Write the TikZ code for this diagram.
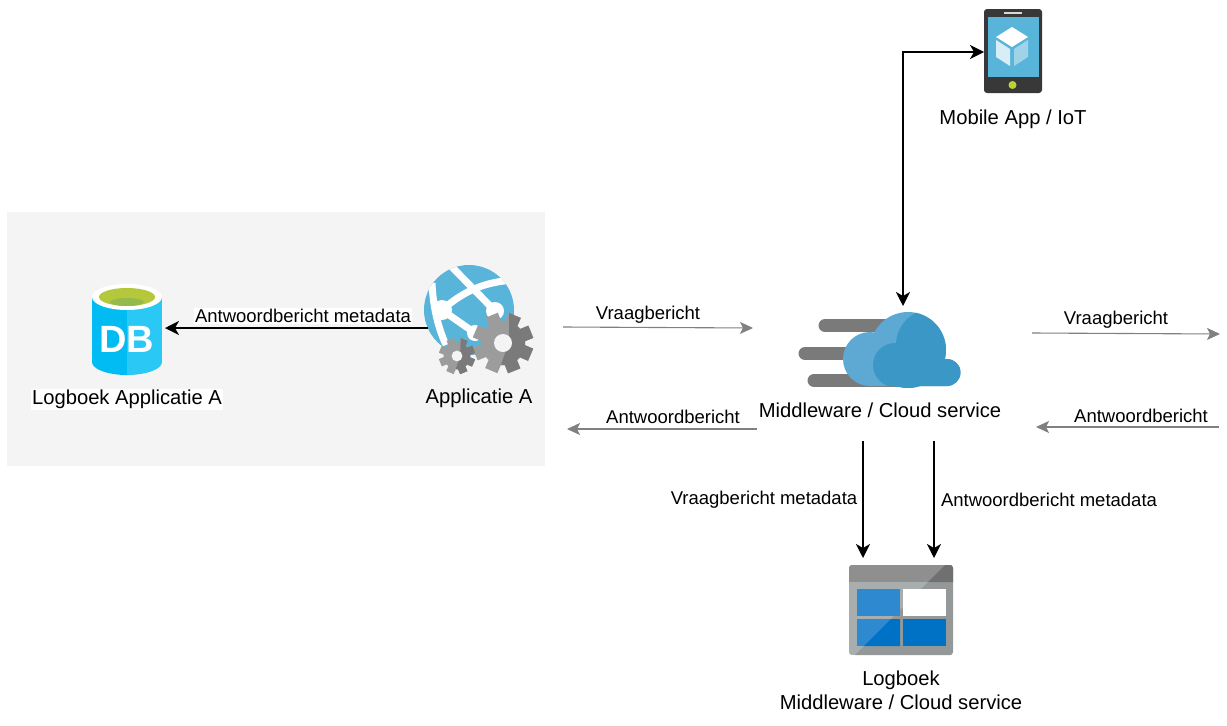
\documentclass[tikz,border=0pt]{standalone}
\usepackage{xcolor}
\usepackage{fontspec}
\setmainfont{Liberation Sans}
\usepackage{tikz}
\usetikzlibrary{positioning, arrows.meta}
\definecolor{panel}{HTML}{F4F4F4}
\definecolor{globe}{HTML}{59B4D9}
\definecolor{gearlight}{HTML}{9C9C9C}
\definecolor{geardark}{HTML}{7A7A7A}
\definecolor{cloudlight}{HTML}{5EA9D3}
\definecolor{clouddark}{HTML}{3A97C6}
\definecolor{cellblue}{HTML}{2F89D0}
\definecolor{celldark}{HTML}{0072C6}
\definecolor{dbleft}{HTML}{00BCF2}
\definecolor{dbright}{HTML}{2AC8F5}

\begin{document}
\begin{tikzpicture}[x=1pt, y=-1pt, node distance = 6pt]
    \tikzstyle{icon} = [inner sep=0pt, outer sep=0pt];
    \tikzstyle{title} = [inner sep=1pt, align=center, font=\fontsize{20.2}{24}\selectfont];
    \tikzstyle{msg} = [inner sep=1pt, font=\fontsize{18.5}{22}\selectfont];
    \tikzstyle{strong} = [-{Stealth[length=14pt, width=14pt, inset=4pt]}, line width=1.6pt, black];
    \tikzstyle{faint} = [-{Stealth[length=13pt, width=12pt, inset=3pt]}, line width=1.1pt, black!50];

    \useasboundingbox (0, 0) rectangle (1227, 726);
    \fill [panel] (7, 212) rectangle (545, 466);

    % database
    \foreach \cl/\xa/\xb in {dbleft/92/127, dbright/127/162} {
        \begin{scope}
            \clip (\xa, 280) rectangle (\xb, 380);
            \fill [\cl] (92, 297) rectangle (162, 362);
            \fill [\cl] (127, 362) ellipse [x radius=35, y radius=13];
        \end{scope}
    }
    \fill [white] (127, 297) ellipse [x radius=35, y radius=13];
    \fill [fill={rgb,255:red,181;green,200;blue,60}] (127, 297) ellipse [x radius=28, y radius=9];
    \fill [fill={rgb,255:red,150;green,185;blue,75}] (127, 302) ellipse [x radius=17, y radius=4];
    \node [icon, white, font=\fontsize{38}{38}\bfseries\selectfont] at (127, 339) {DB};
    \node [icon, minimum width=76pt, minimum height=92pt] (db) at (127, 328) {};

    % application
    \fill [globe] (469, 310) circle [radius=45];
    \begin{scope}
        \clip (469, 310) circle [radius=45];
        \draw [white, line width=7pt] (451, 266) -- (495, 311);
        \draw [white, line width=7pt] (442, 310) .. controls (465, 290) and (485, 282) .. (514, 280);
        \draw [white, line width=7pt] (442, 310) -- (475, 333);
        \draw [white, line width=7pt] (432, 283) .. controls (433, 305) and (437, 325) .. (446, 345);
    \end{scope}
    \fill [white] (442, 310) circle [radius=10];
    \fill [white] (495, 311) circle [radius=9];
    \fill [white] (475, 333) circle [radius=8];
    \foreach \gx/\gy/\gr in {503/343/30, 457/356/18} {
        \fill [gearlight] (\gx, \gy) circle [radius=0.74*\gr];
        \foreach \a in {0, 45, ..., 315}
            \fill [gearlight, rotate around={\a+22:(\gx, \gy)}] (\gx-0.22*\gr, \gy) rectangle (\gx+0.22*\gr, \gy-\gr);
        \begin{scope}
            \clip (\gx-\gr*0.2, \gy+\gr*1.1) -- (\gx+\gr*0.2, \gy) -- (\gx+\gr*0.2, \gy-\gr*1.1) -- (\gx+\gr*1.1, \gy-\gr*1.1) -- (\gx+\gr*1.1, \gy+\gr*1.1) -- cycle;
            \fill [geardark] (\gx, \gy) circle [radius=0.74*\gr];
            \foreach \a in {0, 45, ..., 315}
                \fill [geardark, rotate around={\a+22:(\gx, \gy)}] (\gx-0.22*\gr, \gy) rectangle (\gx+0.22*\gr, \gy-\gr);
        \end{scope}
        \fill [panel] (\gx, \gy) circle [radius=0.3*\gr];
    }
    \node [icon, minimum width=82pt, minimum height=90pt] (app) at (469, 328) {};

    % cloud
    \foreach \by/\bx in {325.5/819, 353.5/799, 380.5/808}
        \draw [geardark, line width=13pt, line cap=round] (\bx+6, \by) -- (900, \by);
    \begin{scope}
        \clip (908, 350) circle [radius=38] (870, 359) circle [radius=27] (947, 372.5) circle [radius=13.5] (948, 368) rectangle (870, 386);
        \fill [cloudlight] (840, 305) rectangle (965, 390);
        \fill [clouddark] (932, 345) circle [radius=36];
        \fill [clouddark] (895, 365) circle [radius=22];
        \fill [clouddark] (895, 365) rectangle (965, 390);
    \end{scope}
    \node [icon, minimum width=162pt, minimum height=80pt] (cloud) at (880, 346) {};

    % phone
    \fill [fill=black!78, rounded corners=3pt] (984, 9) rectangle (1042, 93);
    \fill [globe] (988, 17) rectangle (1039, 77);
    \draw [black!15, line width=1.5pt] (1004, 13) -- (1022, 13);
    \fill [fill={rgb,255:red,184;green,212;blue,50}] (1012.5, 85) circle [radius=4];
    \fill [white] (1012, 27) -- (1028, 37) -- (1012, 47) -- (996, 37) -- cycle;
    \fill [fill={rgb,255:red,216;green,238;blue,246}] (996, 40) -- (1010, 49) -- (1010, 66) -- (996, 57) -- cycle;
    \fill [fill={rgb,255:red,159;green,212;blue,232}] (1014, 49) -- (1028, 40) -- (1028, 57) -- (1014, 66) -- cycle;
    \node [icon, minimum width=58pt, minimum height=84pt] (phone) at (1013, 52) {};

    % storage
    \begin{scope}
        \clip [rounded corners=3pt] (849, 565) rectangle (953, 655);
        \fill [fill={rgb,255:red,168;green,173;blue,174}] (849, 565) rectangle (953, 655);
        \fill [fill={rgb,255:red,148;green,152;blue,153}] (953, 557) -- (953, 655) -- (855, 655) -- cycle;
        \fill [fill={rgb,255:red,143;green,143;blue,143}] (849, 565) rectangle (953, 582);
        \fill [fill={rgb,255:red,112;green,112;blue,112}] (945, 565) -- (953, 565) -- (953, 582) -- (928, 582) -- cycle;
    \end{scope}
    \fill [cellblue] (857, 589) rectangle (900, 616);
    \fill [white] (903, 589) rectangle (946, 616);
    \fill [cellblue] (857, 619) rectangle (900, 646);
    \fill [celldark] (891, 619) -- (900, 619) -- (900, 646) -- (864, 646) -- cycle;
    \fill [celldark] (903, 619) rectangle (946, 646);
    \node [icon, minimum width=104pt, minimum height=90pt] (store) at (901, 610) {};

    % names
    \node [title, fill=white, below = 15pt of db] (dbname) {Logboek Applicatie A};
    \node [title, below = 15pt of app, xshift=10pt] (appname) {Applicatie A};
    \node [title, below = 16pt of cloud] (cloudname) {Middleware / Cloud service};
    \node [title, below = 15pt of phone] (phonename) {Mobile App / IoT};
    \node [title, below = 15pt of store] (storename) {Logboek\\Middleware / Cloud service};

    % free ends
    \coordinate (inA) at (563, 327);
    \coordinate (inB) at (753, 328);
    \coordinate (outA) at (1032, 333);
    \coordinate (outB) at (1220, 334);
    \coordinate (backA) at (757, 429);
    \coordinate (backB) at (567, 429);
    \coordinate (retA) at (1219, 427);
    \coordinate (retB) at (1036, 427);
    \coordinate (cloudtop) at (903, 306);
    \coordinate (logA) at (863, 441);
    \coordinate (logB) at (863, 558);
    \coordinate (logC) at (934, 441);
    \coordinate (logD) at (934, 558);

    \draw [strong] (app.west) to (db.east);
    \draw [strong, {Stealth[length=14pt, width=14pt, inset=4pt]}-{Stealth[length=14pt, width=14pt, inset=4pt]}] (cloudtop) |- (phone.west);
    \draw [strong] (logA) to (logB);
    \draw [strong] (logC) to (logD);
    \foreach \from/\to in {inA/inB, outA/outB, backA/backB, retA/retB}
        \draw [faint] (\from) to (\to);

    % messages
    \node [msg, fill=white] (dbmsg) at (303, 316) {Antwoordbericht metadata};
    \node [msg] (askleft) at (648, 315) {Vraagbericht};
    \node [msg] (askright) at (1116, 320) {Vraagbericht};
    \node [msg] (ansleft) at (673, 417) {Antwoordbericht};
    \node [msg] (ansright) at (1141, 416) {Antwoordbericht};
    \node [msg] (logask) at (764, 500) {Vraagbericht metadata};
    \node [msg] (logans) at (1049, 500) {Antwoordbericht metadata};
\end{tikzpicture}
\end{document}
